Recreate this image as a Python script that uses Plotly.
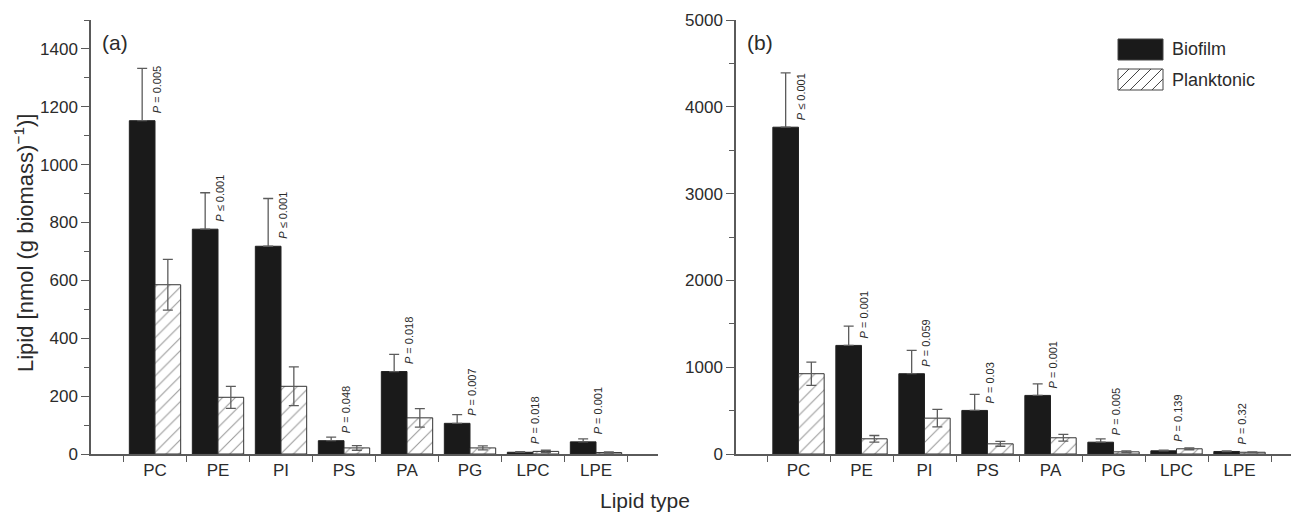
import plotly.graph_objects as go

# ---------------- data ----------------
categories = ["PC", "PE", "PI", "PS", "PA", "PG", "LPC", "LPE"]

a_biofilm = [1152, 777, 718, 46, 285, 106, 6, 42]
a_biofilm_err = [181, 126, 165, 12, 59, 30, 2, 10]
a_plank = [585, 196, 234, 21, 125, 21, 9, 5]
a_plank_err = [88, 38, 67, 8, 32, 7, 4, 2]
a_pvals = ["= 0.005", "≤ 0.001", "≤ 0.001", "= 0.048", "= 0.018", "= 0.007", "= 0.018", "= 0.001"]

b_biofilm = [3765, 1251, 925, 502, 675, 136, 37, 29]
b_biofilm_err = [626, 222, 268, 184, 134, 39, 8, 6]
b_plank = [925, 175, 413, 117, 187, 25, 60, 20]
b_plank_err = [134, 38, 100, 28, 38, 10, 11, 5]
b_pvals = ["≤ 0.001", "= 0.001", "= 0.059", "= 0.03", "= 0.001", "= 0.005", "= 0.139", "= 0.32"]

series_names = ["Biofilm", "Planktonic"]
panel_labels = ["(a)", "(b)"]

# ---------------- style / layout ----------------
W, H = 1291, 514
MT, MB = 20, 60
PLOT_H = H - MT - MB
FONT = "Liberation Sans, Arial, Helvetica, sans-serif"
TXT = "#2b2b2b"
AX = "#5a5a5a"
BLACK = "#1a1a1a"


def px_x(px):
    return px / W


def px_y(py):
    return (H - MB - py) / PLOT_H


fig = go.Figure()


def add_panel(bio, bio_err, pl, pl_err, xa, ya):
    fig.add_trace(go.Bar(
        x=categories, y=bio, name=series_names[0], xaxis=xa, yaxis=ya,
        marker=dict(color=BLACK, line=dict(color="#222", width=1)),
        error_y=dict(type="data", array=bio_err, arrayminus=[0] * len(bio_err),
                     symmetric=False, color="#5c5c5c", thickness=1.3, width=5),
        showlegend=False,
    ))
    fig.add_trace(go.Bar(
        x=categories, y=pl, name=series_names[1], xaxis=xa, yaxis=ya,
        marker=dict(color="white", line=dict(color="#333", width=1),
                    pattern=dict(shape="/", size=9, solidity=0.12,
                                 fgcolor="#333", bgcolor="white")),
        error_y=dict(type="data", array=pl_err, color="#5c5c5c",
                     thickness=1.3, width=5),
        showlegend=False,
    ))


add_panel(a_biofilm, a_biofilm_err, a_plank, a_plank_err, "x", "y")
add_panel(b_biofilm, b_biofilm_err, b_plank, b_plank_err, "x2", "y2")

annotations = []
for pvals, bio, pl, xr, yr in [(a_pvals, a_biofilm, a_plank, "x", "y"),
                               (b_pvals, b_biofilm, b_plank, "x2", "y2")]:
    for cat, p, vb, vp in zip(categories, pvals, bio, pl):
        annotations.append(dict(
            x=cat, y=max(vb, vp), xref=xr, yref=yr,
            text="<i>P</i> " + p, textangle=-90, showarrow=False,
            xanchor="center", yanchor="bottom", xshift=2, yshift=5,
            font=dict(family=FONT, size=11, color=TXT),
        ))

# panel letters
annotations.append(dict(x=px_x(100), y=px_y(42), xref="paper", yref="paper",
                        text=panel_labels[0], showarrow=False, xanchor="left",
                        yanchor="middle", font=dict(family=FONT, size=21, color=TXT)))
annotations.append(dict(x=px_x(745), y=px_y(42), xref="paper", yref="paper",
                        text=panel_labels[1], showarrow=False, xanchor="left",
                        yanchor="middle", font=dict(family=FONT, size=21, color=TXT)))

# axis titles
annotations.append(dict(x=px_x(24), y=px_y(243), xref="paper", yref="paper",
                        text="Lipid [nmol (g biomass)<sup>−1</sup>)]", textangle=-90,
                        showarrow=False, xanchor="center", yanchor="middle",
                        font=dict(family=FONT, size=22, color=TXT)))
annotations.append(dict(x=px_x(645), y=px_y(500), xref="paper", yref="paper",
                        text="Lipid type", showarrow=False, xanchor="center",
                        yanchor="middle", font=dict(family=FONT, size=21, color=TXT)))

# manual legend
LX0, LX1 = 1118, 1163
leg_rows = [(39, 60), (69, 90)]
shapes = []
shapes.append(dict(type="rect", xref="paper", yref="paper",
                   x0=px_x(LX0), x1=px_x(LX1), y0=px_y(leg_rows[0][1]), y1=px_y(leg_rows[0][0]),
                   fillcolor=BLACK, line=dict(color="#444", width=1)))
shapes.append(dict(type="rect", xref="paper", yref="paper",
                   x0=px_x(LX0), x1=px_x(LX1), y0=px_y(leg_rows[1][1]), y1=px_y(leg_rows[1][0]),
                   fillcolor="white", line=dict(color="#444", width=1)))
# hatch lines inside the planktonic legend swatch
y0p, y1p = leg_rows[1]
h = y1p - y0p
segs = []
s = LX0 - h
while s < LX1:
    t0 = max(0.0, (LX0 - s) / h)
    t1 = min(1.0, (LX1 - s) / h)
    if t1 > t0:
        xa_, ya_ = s + t0 * h, y1p - t0 * h
        xb_, yb_ = s + t1 * h, y1p - t1 * h
        segs.append(f"M{px_x(xa_):.5f},{px_y(ya_):.5f}L{px_x(xb_):.5f},{px_y(yb_):.5f}")
    s += 11
shapes.append(dict(type="path", xref="paper", yref="paper", path="".join(segs),
                   line=dict(color="#444", width=1)))

for name, (ya0, ya1) in zip(series_names, leg_rows):
    annotations.append(dict(x=px_x(1170), y=px_y((ya0 + ya1) / 2), xref="paper", yref="paper",
                            text=name, showarrow=False, xanchor="left", yanchor="middle",
                            font=dict(family=FONT, size=18, color=TXT)))

xaxis_common = dict(
    type="category", tickson="boundaries", ticks="outside", ticklen=6,
    tickcolor=AX, tickwidth=1.3, showline=True, linecolor=AX, linewidth=1.5,
    showgrid=False, zeroline=False,
    tickfont=dict(family=FONT, size=17, color=TXT),
)
yaxis_common = dict(
    ticks="outside", ticklen=8, tickcolor=AX, tickwidth=1.3,
    showline=True, linecolor=AX, linewidth=1.5, showgrid=False, zeroline=False,
    tickfont=dict(family=FONT, size=17, color=TXT),
)

fig.update_layout(
    width=W, height=H,
    margin=dict(l=0, r=0, t=MT, b=MB),
    paper_bgcolor="white", plot_bgcolor="white",
    barmode="group", bargap=0.185, bargroupgap=0,
    showlegend=False,
    xaxis=dict(domain=[px_x(91), px_x(658)], range=[-1.016, 7.984], anchor="y", **xaxis_common),
    yaxis=dict(range=[0, 1500], dtick=200, tick0=0, anchor="x",
               minor=dict(dtick=100, ticks="outside", ticklen=5, tickcolor=AX),
               **yaxis_common),
    xaxis2=dict(domain=[px_x(736), 1.0], range=[-0.992, 7.817], anchor="y2", **xaxis_common),
    yaxis2=dict(range=[0, 5000], dtick=1000, tick0=0, anchor="x2",
                minor=dict(dtick=500, ticks="outside", ticklen=5, tickcolor=AX),
                **yaxis_common),
    annotations=annotations,
    shapes=shapes,
)

fig.write_html(
    "out.html",
    config={"displayModeBar": False},
    post_script="document.body.style.margin='0';document.body.style.overflow='hidden';",
)
